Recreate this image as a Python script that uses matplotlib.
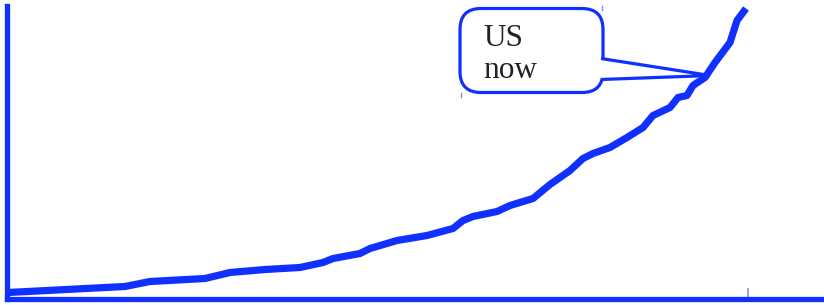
import matplotlib
matplotlib.use("Agg")
import matplotlib.pyplot as plt
from matplotlib.patches import FancyBboxPatch, Polygon

# curve (arbitrary units, origin at the axes corner)
x_vals = [1, 118, 143, 198, 223, 258, 293, 316, 326, 353, 363, 390, 420, 446,
          456, 466, 490, 503, 526, 543, 563, 576, 586, 603, 620, 636, 646, 663,
          671, 680, 686, 698, 708, 723, 730, 739]
y_vals = [6, 12, 17, 20, 26, 29, 31, 36, 40, 45, 50, 58, 63, 70,
          78, 82, 87, 93, 100, 114, 128, 140, 145, 151, 161, 171, 183, 191,
          201, 203, 213, 221, 236, 256, 278, 290]
now_x, now_y = 696, 223
label_lines = ["US", "now"]

BLUE = "#1030ff"
LIGHT = "#8090ff"

fig = plt.figure(figsize=(8.24, 3.05), dpi=100)
ax = fig.add_axes([7 / 824, 6.5 / 305, 817 / 824, 293 / 305])
ax.set_xlim(0, 817)
ax.set_ylim(0, 293)

ax.plot(x_vals, y_vals, color=BLUE, lw=5.2, solid_capstyle="butt",
        solid_joinstyle="round", clip_on=False, zorder=3)

for side in ("top", "right"):
    ax.spines[side].set_visible(False)
for side in ("left", "bottom"):
    ax.spines[side].set_color(BLUE)
    ax.spines[side].set_linewidth(3.8)
    ax.spines[side].set_capstyle("projecting")

ax.set_xticks([741])
ax.set_xticklabels([])
ax.set_yticks([])
ax.tick_params(axis="x", direction="in", length=8, width=1.2, color=LIGHT)

# callout box
bx0, bx1, by0, by1 = 453, 596, 206, 290
box = FancyBboxPatch((bx0, by0), bx1 - bx0, by1 - by0,
                     boxstyle="round,pad=0,rounding_size=21",
                     fc="white", ec=BLUE, lw=2.3, zorder=4, clip_on=False)
ax.add_patch(box)
wedge_top, wedge_bot = 240, 219
ax.add_patch(Polygon([(bx1 - 2, wedge_top), (now_x + 7, now_y), (bx1 - 2, wedge_bot)],
                     closed=False, fc="white", ec=BLUE, lw=2.3, zorder=5,
                     joinstyle="miter", clip_on=False))
for txt, yb in zip(label_lines, [252, 220]):
    ax.text(476, yb, txt, fontsize=22.5, family="Liberation Serif",
            color="#222222", va="baseline", ha="left", zorder=6)

# faint marks near the box
ax.plot([595, 595], [289, 293], color=LIGHT, lw=1, clip_on=False)
ax.plot([454, 454], [202, 206], color=LIGHT, lw=1, clip_on=False)

fig.savefig("out.png", dpi=100)
